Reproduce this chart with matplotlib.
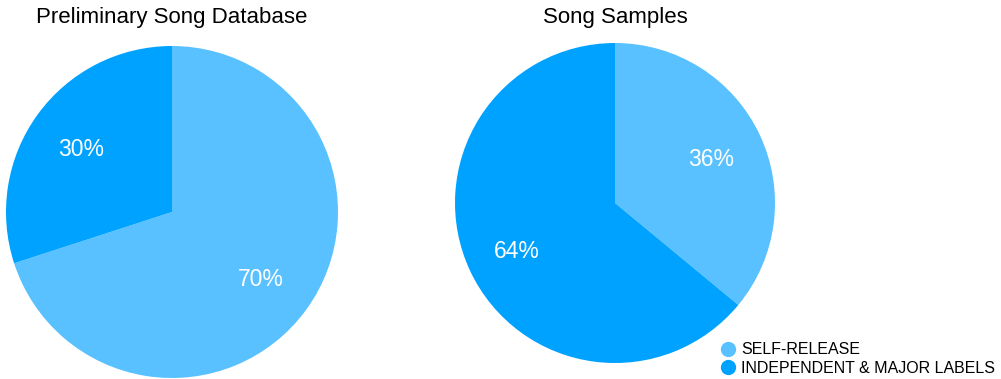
import matplotlib.pyplot as plt
from matplotlib.lines import Line2D

plt.rcParams['font.family'] = ['Liberation Sans', 'DejaVu Sans']

categories = ['SELF-RELEASE', 'INDEPENDENT & MAJOR LABELS']
colors = ['#59C1FF', '#00A2FF']

titles = ['Preliminary Song Database', 'Song Samples']
database = [70, 30]
samples = [36, 64]

W, H = 1001, 379
fig = plt.figure(figsize=(W / 100, H / 100), dpi=100)

# pixel boxes (left, top, size) for each pie
boxes = [(6, 46, 332), (455, 43, 320)]

for (x0, y0, s), vals, title in zip(boxes, [database, samples], titles):
    ax = fig.add_axes([x0 / W, (H - y0 - s) / H, s / W, s / H])
    wedges, texts = ax.pie(vals, colors=colors, startangle=90, counterclock=False,
                           labels=['%d%%' % v for v in vals], labeldistance=0.67,
                           wedgeprops=dict(linewidth=0),
                           textprops=dict(color='white', fontsize=16.5, ha='center', va='center'))
    for t in texts:
        x, y = t.get_position()
        t.set_position((x - 0.008, y - 0.015))
    ax.set_aspect('equal')
    ax.set_xlim(-1, 1)
    ax.set_ylim(-1, 1)
    ax.axis('off')
    fig.text((x0 + s / 2) / W, 1 - 18 / H, title, ha='center', va='center', fontsize=16)

handles = [Line2D([], [], marker='o', linestyle='none', markersize=11,
                  markerfacecolor=c, markeredgewidth=0) for c in colors]
fig.legend(handles, categories, loc='lower left', bbox_to_anchor=(713 / W, -3 / H),
           frameon=False, fontsize=11.5, handletextpad=0.25, labelspacing=0.2,
           handlelength=1.1, borderaxespad=0)

fig.savefig('out.png', dpi=100)
